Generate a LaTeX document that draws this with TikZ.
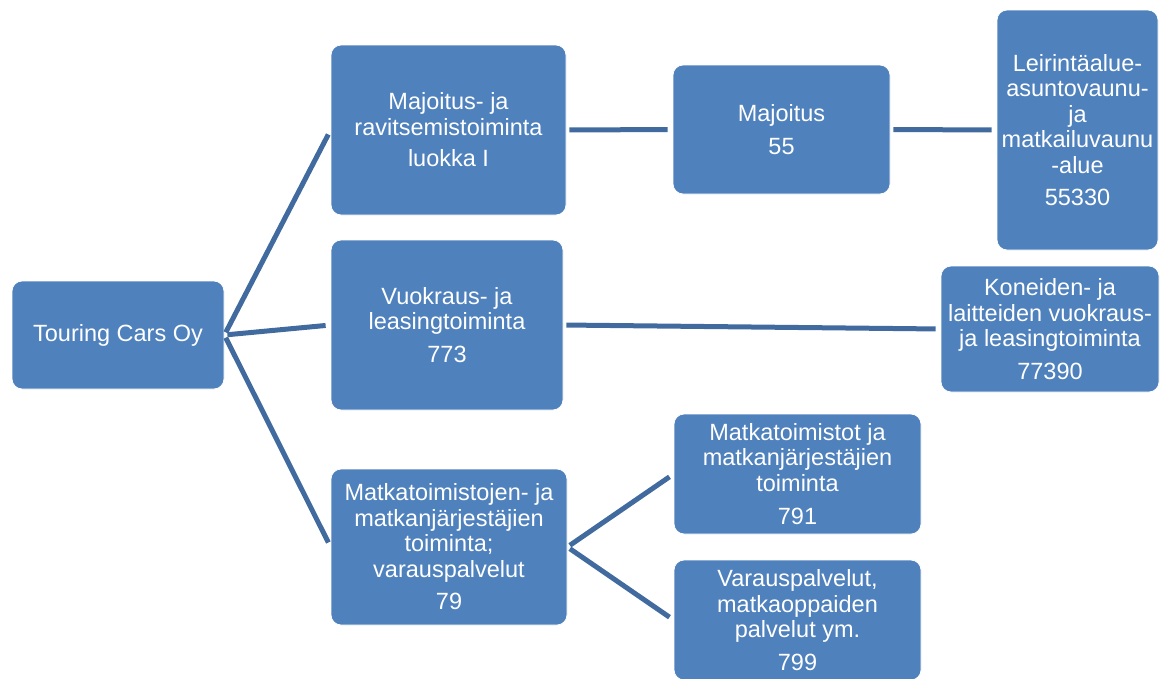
\documentclass[tikz,border=0pt]{standalone}
\usepackage{fontspec}
\setmainfont{Liberation Sans}
\definecolor{boxblue}{HTML}{4F81BD}
\definecolor{lineblue}{HTML}{416B9F}
\tikzset{
  box/.style={draw=white, line width=0.8pt, fill=boxblue, rounded corners=10pt,
    text=white, align=center, font=\fontsize{23.5}{25.5}\selectfont, inner sep=0pt},
  conn/.style={draw=lineblue, line width=5pt, shorten <=3pt, shorten >=5pt}
}
\begin{document}
\begin{tikzpicture}[x=1pt,y=-1pt]
\useasboundingbox (0,0) rectangle (1170,678);
\node[box, minimum width=212pt, minimum height=108pt] (tc) at (118,335) {Touring Cars Oy};
\node[box, minimum width=235pt, minimum height=170pt] (maj) at (448.5,130) {Majoitus- ja\\ravitsemistoiminta\\[6pt]luokka I};
\node[box, minimum width=217pt, minimum height=129pt] (m55) at (781.5,129.5) {Majoitus\\[8pt]55};
\node[box, minimum width=161pt, minimum height=240pt] (leir) at (1077.5,130) {Leirintäalue-\\asuntovaunu-\\ja\\matkailuvaunu\\-alue\\[7pt]55330};
\node[box, minimum width=232pt, minimum height=170pt] (vuo) at (447,325) {Vuokraus- ja\\leasingtoiminta\\[7pt]773};
\node[box, minimum width=218pt, minimum height=126pt] (kon) at (1050,329) {Koneiden- ja\\laitteiden vuokraus-\\ja leasingtoiminta\\[7pt]77390};
\node[box, minimum width=236pt, minimum height=156pt] (m79) at (449,547) {Matkatoimistojen- ja\\matkanjärjestäjien\\toiminta;\\varauspalvelut\\[7pt]79};
\node[box, minimum width=247pt, minimum height=120pt] (m791) at (797.5,474) {Matkatoimistot ja\\matkanjärjestäjien\\toiminta\\[8pt]791};
\node[box, minimum width=247pt, minimum height=120pt] (m799) at (797.5,620) {Varauspalvelut,\\matkaoppaiden\\palvelut ym.\\[7pt]799};
\draw[conn] (tc.east) -- (maj.west);
\draw[conn] (tc.east) -- (vuo.west);
\draw[conn] (tc.east) -- (m79.west);
\draw[conn] (maj.east) -- (m55.west);
\draw[conn] (m55.east) -- (leir.west);
\draw[conn] (vuo.east) -- (kon.west);
\draw[conn] (m79.east) -- (m791.west);
\draw[conn] (m79.east) -- (m799.west);
\end{tikzpicture}
\end{document}
